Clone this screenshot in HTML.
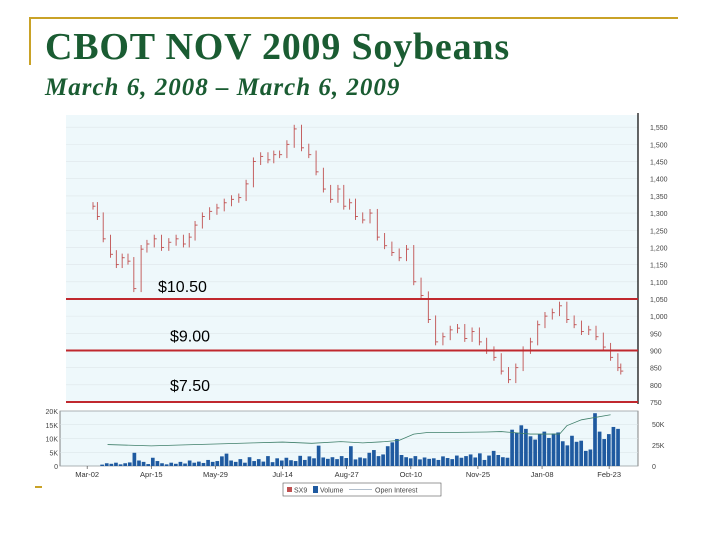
<!DOCTYPE html>
<html><head><meta charset="utf-8"><style>
body{margin:0;width:720px;height:540px;background:#fff;position:relative;overflow:hidden;font-family:"Liberation Sans",sans-serif}
.t{position:absolute;color:#1a5c32;font-family:"Liberation Serif",serif;font-weight:bold;white-space:nowrap}
</style></head><body>
<div style="position:absolute;left:30px;top:17px;width:648px;height:2px;background:#c9a227"></div>
<div style="position:absolute;left:29px;top:17px;width:2px;height:48px;background:#c9a227"></div>
<div class="t" style="left:45px;top:25px;font-size:38px;letter-spacing:0.8px">CBOT NOV 2009 Soybeans</div>
<div class="t" style="left:45px;top:74px;font-size:25px;font-style:italic;letter-spacing:1px">March 6, 2008 – March 6, 2009</div>
<div style="position:absolute;left:35px;top:486px;width:7px;height:2px;background:#c9a227"></div>
<svg id="c" width="720" height="540" style="position:absolute;left:0;top:0"></svg>
<script>
const priceTicks=[750,800,850,900,950,1000,1050,1100,1150,1200,1250,1300,1350,1400,1450,1500,1550];
const priceLabels=["750","800","850","900","950","1,000","1,050","1,100","1,150","1,200","1,250","1,300","1,350","1,400","1,450","1,500","1,550"];
const priceDays=[0,3,7,12,16,20,24,28,33,37,42,47,52,57,62,66,70,75,80,85,90,95,100,105,110,115,120,124,128,133,138,143,148,153,158,163,168,172,176,180,185,190,195,200,205,210,215,220,225,230,235,240,245,250,255,260,265,270,275,280,285,290,295,300,305,310,315,320,325,330,335,340,345,350,355,360,362];
const priceClose=[1320,1290,1225,1180,1150,1170,1160,1080,1195,1210,1225,1200,1215,1225,1210,1230,1265,1290,1305,1315,1330,1340,1345,1385,1450,1465,1455,1470,1470,1500,1545,1490,1470,1420,1370,1340,1370,1320,1330,1290,1280,1300,1230,1205,1185,1170,1195,1100,1060,990,925,940,960,965,935,955,925,900,880,840,815,850,900,925,975,1000,1010,1030,990,975,955,960,940,910,880,850,840];
const volTicks=[0,5,10,15,20];
const oiTicks=[0,25,50];
const volume=[0.5,1,0.8,1.2,0.6,1,1.3,4.8,2,1.5,0.7,3,1.8,1,0.6,1.2,0.8,1.5,0.9,2,1.2,1.6,1.1,2.2,1.5,1.8,3.5,4.5,2,1.5,2.5,1.2,3.2,1.8,2.5,1.6,3.6,1.4,2.8,2,3,2.1,1.8,3.7,2.2,3.5,2.8,7.4,3.1,2.6,3.2,2.5,3.6,2.9,7.2,2.4,3.1,2.8,4.8,5.8,3.6,4.2,7.2,8.6,9.8,4,3.2,2.8,3.6,2.4,3.1,2.6,2.8,2.2,3.5,2.9,2.5,3.8,3,3.6,4.2,3.1,4.6,2.2,3.8,5.5,4,3.2,3,13.2,12,14.8,13.5,10.8,9.6,11.5,12.5,10.2,11.8,12.2,9,7.5,11,8.8,9.2,5.5,6,19.2,12.5,9.8,11.6,14.2,13.5];
const oiDays=[10,40,60,90,110,130,150,170,185,200,210,220,230,250,270,280,300,320,325,335,355];
const oiVals=[25.5,24,25,26.5,27.5,28.5,27,29,27.5,29,30.5,38,40,40,40.5,41,38,38,48,55,61];
const dateLabels=["Mar-02","Apr-15","May-29","Jul-14","Aug-27","Oct-10","Nov-25","Jan-08","Feb-23"];
const dateDays=[-4,40,84,130,174,218,264,308,354];
const refLevels=[1050,900,750];
const refLabels=["$10.50","$9.00","$7.50"];

const NS="http://www.w3.org/2000/svg",svg=document.getElementById('c');
function mk(t,a,p){const e=document.createElementNS(NS,t);for(const k in a)e.setAttribute(k,a[k]);(p||svg).appendChild(e);return e;}
const X0=66,X1=638;
const xd=d=>93+d*1.458;
const yp=v=>402-(v-750)*0.3435;
const yv=v=>466-v*2.75;
const yo=v=>466-v*0.84;
let e;
e=mk('rect',{x:X0,y:115,width:X1-X0,height:287,fill:'#eef8fb'});

priceTicks.forEach((v,i)=>{
 e=mk('line',{x1:X0,x2:X1,y1:yp(v),y2:yp(v),stroke:'#dde6ea','stroke-width':0.6});
 
 e=mk('text',{x:X1+12,y:yp(v)+3,'font-size':7,fill:'#444'});e.textContent=priceLabels[i];
 
});
e=mk('line',{x1:X1,x2:X1,y1:113,y2:404,stroke:'#000','stroke-width':1.2});

priceDays.forEach((d,i)=>{
 const c=priceClose[i],x=xd(d),pc=i?priceClose[i-1]:c;
 const hi=Math.max(c,pc)+12,lo=Math.min(c,pc)-10;
 e=mk('line',{x1:x,x2:x,y1:yp(hi),y2:yp(lo),stroke:'#c05050','stroke-width':0.9});
 
 e=mk('line',{x1:x,x2:x+2.5,y1:yp(c),y2:yp(c),stroke:'#c05050','stroke-width':0.9});
 
});
refLevels.forEach((v,i)=>{
 e=mk('line',{x1:X0,x2:X1,y1:yp(v),y2:yp(v),stroke:'#c0282e','stroke-width':2});
 
 e=mk('text',{x:i?170:158,y:yp(v)-i*2-7,'font-size':16,fill:'#000'});e.textContent=refLabels[i];
 
});
e=mk('rect',{x:X0-6,y:411,width:X1-X0+6,height:55,fill:'#eef8fb',stroke:'#333','stroke-width':0.6});

volTicks.forEach(v=>{
 e=mk('line',{x1:X0-6,x2:X1,y1:yv(v),y2:yv(v),stroke:'#d8e2e6','stroke-width':0.5});
 
 e=mk('text',{x:58,y:yv(v)+3,'font-size':7,fill:'#444','text-anchor':'end'});e.textContent=v?v+'K':'0';
 
});
oiTicks.forEach(v=>{
 e=mk('text',{x:652,y:yo(v)+3,'font-size':7,fill:'#444'});e.textContent=v?v+'K':'0';
 
});
const vw=(362-5)/volume.length;
volume.forEach((v,i)=>{
 const x=xd(5+i*vw*1);
 e=mk('rect',{x:x,y:yv(v),width:vw*1.458*0.8,height:v*2.75,fill:'#1f5aa0'});
 
});
e=mk('polyline',{points:oiDays.map((d,i)=>xd(d)+','+yo(oiVals[i])).join(' '),fill:'none',stroke:'#3f7f6a','stroke-width':0.8});

dateLabels.forEach((l,i)=>{
 e=mk('line',{x1:xd(dateDays[i]),x2:xd(dateDays[i]),y1:466,y2:469,stroke:'#333','stroke-width':0.6});
 
 e=mk('text',{x:xd(dateDays[i]),y:477,'font-size':7.5,fill:'#333','text-anchor':'middle'});e.textContent=l;
 
});
e=mk('rect',{x:283,y:483,width:158,height:13,fill:'#fff',stroke:'#555','stroke-width':0.6});

e=mk('rect',{x:287,y:487,width:5,height:5,fill:'#c05050'});

e=mk('text',{x:294,y:492.5,'font-size':7,fill:'#444'});e.textContent='SX9';

e=mk('rect',{x:313,y:486,width:5,height:7,fill:'#1f5aa0'});

e=mk('text',{x:320,y:492.5,'font-size':7,fill:'#444'});e.textContent='Volume';

e=mk('line',{x1:349,x2:372,y1:489.5,y2:489.5,stroke:'#9ab','stroke-width':0.8});

e=mk('text',{x:375,y:492.5,'font-size':7,fill:'#444'});e.textContent='Open Interest';

</script>
</body></html>
